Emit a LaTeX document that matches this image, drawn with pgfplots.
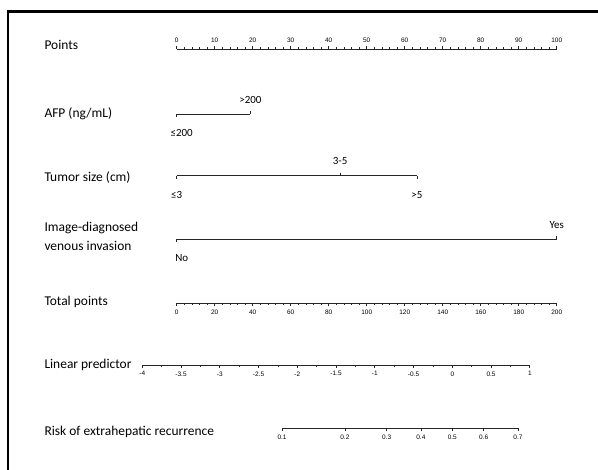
\documentclass[border=0pt]{standalone}
\usepackage{fontspec}
\setmainfont{Carlito}
\newfontfamily\tickfamily{Liberation Sans}
\usepackage{pgfplots}
\pgfplotsset{compat=1.18}
\newcommand{\tickfont}{\tickfamily\fontsize{6.5}{7}\selectfont}
\newcommand{\catfont}{\fontsize{11}{13}\selectfont}
\newcommand{\rowfont}{\fontsize{13.5}{16}\selectfont}
\pgfplotsset{
  nomo/.style={
    y=1bp, ymin=0, ymax=1,
    axis y line=none,
    clip=false,
    axis line style={line width=0.7bp, black!85},
    every tick/.style={line width=0.7bp, black!85},
    major tick length=3bp, minor tick length=1.6bp,
    tick align=outside,
    xticklabel style={font=\tickfont, text=black},
    /pgf/number format/assume math mode=true,
  },
  up/.style={nomo, axis x line*=top, anchor=north west},
  down/.style={nomo, axis x line*=bottom, anchor=south west},
  catup/.style={up, xticklabel style={font=\catfont, text=black, yshift=4.5bp}},
  catdown/.style={down, xticklabel style={font=\catfont, text=black, yshift=-9bp}},
}
\begin{document}
\begin{tikzpicture}[x=1bp,y=1bp]
\path[use as bounding box] (0,0) rectangle (598,-470);
\fill[white] (0,0) rectangle (598,-470);
\draw[line width=2.5bp, black] (8,-475) -- (8,-11.5) -- (605,-11.5);

% row labels
\node[anchor=west, font=\rowfont] at (41,-45) {Points};
\node[anchor=west, font=\rowfont] at (41,-114) {AFP (ng/mL)};
\node[anchor=west, font=\rowfont] at (41,-178) {Tumor size (cm)};
\node[anchor=west, font=\rowfont] at (41,-228) {Image-diagnosed};
\node[anchor=west, font=\rowfont] at (41,-246) {venous invasion};
\node[anchor=west, font=\rowfont] at (41,-302) {Total points};
\node[anchor=west, font=\rowfont] at (41,-365) {Linear predictor};
\node[anchor=west, font=\rowfont] at (41,-432) {Risk of extrahepatic recurrence};

% Points
\begin{axis}[up, at={(176.7bp,-49bp)}, x=3.8bp, xmin=0, xmax=100,
  xtick={0,10,...,100}, minor x tick num=4]
\addplot[draw=none] coordinates {(0,0) (100,0)};
\end{axis}

% AFP
\begin{axis}[catup, at={(176.7bp,-114.3bp)}, x=3.8bp, xmin=0, xmax=19.4,
  xtick={19.4}, xticklabels={>200}]
\addplot[draw=none] coordinates {(0,0) (19.4,0)};
\end{axis}
\begin{axis}[catdown, at={(176.7bp,-114.3bp)}, x=3.8bp, xmin=0, xmax=19.4,
  xtick={0}, xticklabels={≤200}, xticklabel style={xshift=5bp}]
\addplot[draw=none] coordinates {(0,0) (19.4,0)};
\end{axis}

% Tumor size
\begin{axis}[catup, at={(176.7bp,-175.7bp)}, x=3.8bp, xmin=0, xmax=63.2,
  xtick={43.0}, xticklabels={3-5}]
\addplot[draw=none] coordinates {(0,0) (43.0,0) (63.2,0)};
\end{axis}
\begin{axis}[catdown, at={(176.7bp,-175.7bp)}, x=3.8bp, xmin=0, xmax=63.2,
  xtick={0,63.2}, xticklabels={≤3,>5}]
\addplot[draw=none] coordinates {(0,0) (63.2,0)};
\end{axis}

% Venous invasion
\begin{axis}[catup, at={(176.7bp,-239.3bp)}, x=3.8bp, xmin=0, xmax=100,
  xtick={100}, xticklabels={Yes}]
\addplot[draw=none] coordinates {(0,0) (100,0)};
\end{axis}
\begin{axis}[catdown, at={(176.7bp,-239.3bp)}, x=3.8bp, xmin=0, xmax=100,
  xtick={0}, xticklabels={No}, xticklabel style={xshift=5bp}]
\addplot[draw=none] coordinates {(0,0) (100,0)};
\end{axis}

% Total points
\begin{axis}[down, at={(176.7bp,-303.3bp)}, x=1.9bp, xmin=0, xmax=200,
  xtick={0,20,...,200}, minor x tick num=4]
\addplot[draw=none] coordinates {(0,0) (200,0)};
\end{axis}

% Linear predictor
\begin{axis}[down, at={(142.3bp,-365bp)}, x=77.5bp, xmin=-4, xmax=1,
  xtick={-4,-3.5,-3,-2.5,-2,-1.5,-1,-0.5,0,0.5,1},
  xticklabels={-4,-3.5,-3,-2.5,-2,-1.5,-1,-0.5,0,0.5,1},
  minor x tick num=1]
\addplot[draw=none] coordinates {(-4,0) (1,0)};
\end{axis}

% Risk
\begin{axis}[down, at={(282.0bp,-428.3bp)}, x=77.5bp, xmin=-2.1972, xmax=0.8473,
  xtick={-2.1972,-1.3863,-0.8473,-0.4055,0,0.4055,0.8473},
  xticklabels={0.1,0.2,0.3,0.4,0.5,0.6,0.7}]
\addplot[draw=none] coordinates {(-2.1972,0) (0.8473,0)};
\end{axis}
\end{tikzpicture}
\end{document}
